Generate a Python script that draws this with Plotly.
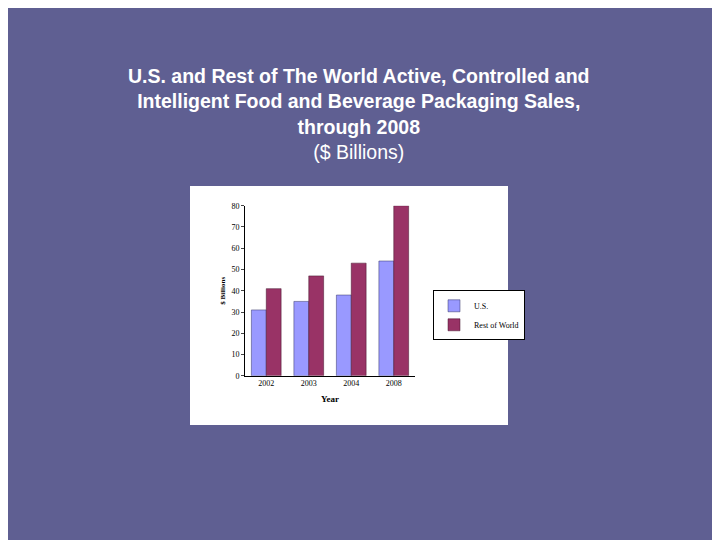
import plotly.graph_objects as go

years = ["2002", "2003", "2004", "2008"]
us = [31, 35, 38, 54]
row = [41, 47, 53, 80]

W, H = 720, 540
OFF = 8  # page body margin

def px(x):
    return (x - OFF) / W

def py(y):
    return 1 - (y - OFF) / H

fig = go.Figure()
fig.add_trace(go.Bar(x=years, y=us, name="U.S.", marker=dict(color="#9999ff", line=dict(color="#333366", width=0.5))))
fig.add_trace(go.Bar(x=years, y=row, name="Rest of World", marker=dict(color="#993366", line=dict(color="#40102a", width=0.5))))

fig.update_layout(
    width=W, height=H,
    margin=dict(l=0, r=0, t=0, b=0),
    paper_bgcolor="#5f5f92",
    plot_bgcolor="#fbe6e6",
    barmode="group", bargap=0.3, bargroupgap=0,
    font=dict(family="Liberation Serif", size=8, color="black"),
    xaxis=dict(domain=[px(245), px(415)], showline=True, linecolor="black",
               title=dict(text="<b>Year</b>", standoff=8, font=dict(size=9))),
    yaxis=dict(domain=[py(378), py(205)], range=[0, 80], dtick=10, showgrid=False,
               showline=True, linecolor="black", ticks="outside", ticklen=3,
               title=dict(text="<b>$ Billions</b>", standoff=4, font=dict(size=7))),
    legend=dict(x=px(433), y=py(291), xanchor="left", yanchor="top",
                bgcolor="white", bordercolor="black", borderwidth=1,
                font=dict(size=8), itemwidth=30, tracegroupgap=0),
    shapes=[dict(type="rect", xref="paper", yref="paper", layer="below",
                 x0=px(190), x1=px(508), y0=py(428), y1=py(185),
                 fillcolor="white", line=dict(width=0))],
    annotations=[dict(
        text="<b>U.S. and Rest of The World Active, Controlled and<br>Intelligent Food and Beverage Packaging Sales,<br>through 2008</b><br>($ Billions)",
        xref="paper", yref="paper", x=px(359), y=py(60), xanchor="center", yanchor="top",
        showarrow=False, font=dict(family="Liberation Sans", size=19.5, color="white"))],
)

fig.write_html("out.html")
